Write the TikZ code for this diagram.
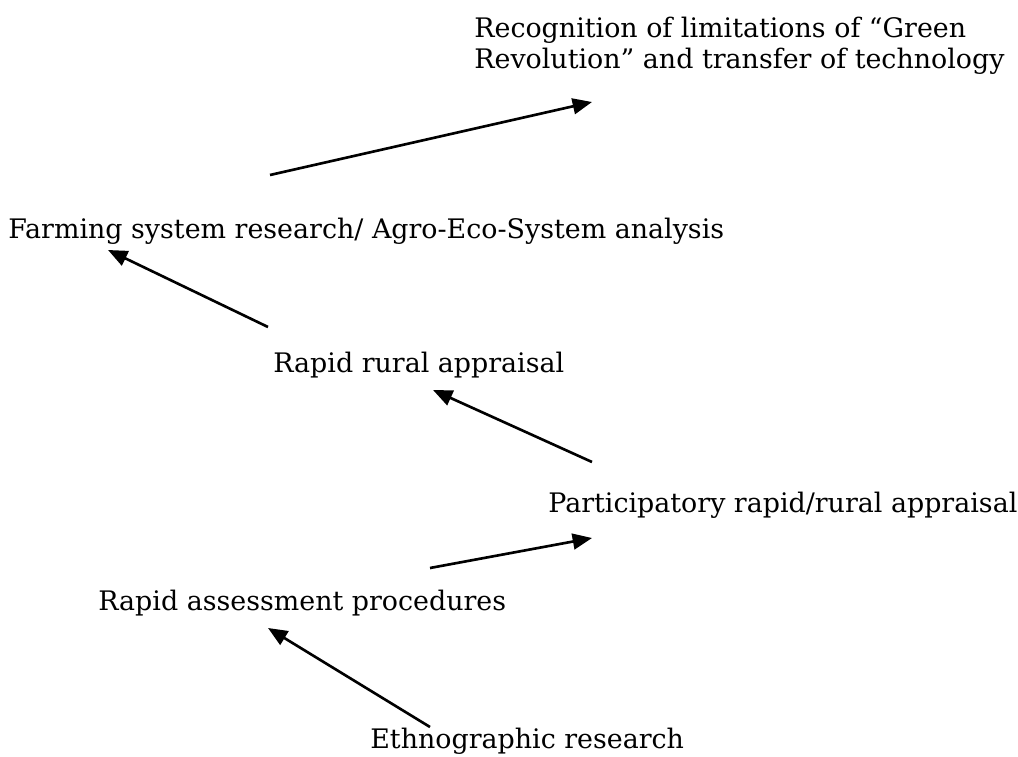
\documentclass[tikz,border=0pt]{standalone}
\usepackage{fontspec}
\setmainfont{DejaVu Serif}
\usetikzlibrary{arrows.meta}
\tikzset{
  lbl/.style={inner sep=0pt, anchor=base west, font=\fontsize{15.3}{18}\selectfont},
  toplbl/.style={lbl, align=left},
  arr/.style={line width=1.5pt, -{Triangle[length=11pt,width=9pt]}}
}
\begin{document}
\begin{tikzpicture}[x=0.02cm,y=-0.02cm]
\useasboundingbox (0,0) rectangle (1018,757);
\node[toplbl] (green) at (474,69) {Recognition of limitations of “Green\\Revolution” and transfer of technology};
\node[lbl] (farm) at (8,238) {Farming system research/ Agro-Eco-System analysis};
\node[lbl] (rra) at (273,372) {Rapid rural appraisal};
\node[lbl] (prra) at (548,512) {Participatory rapid/rural appraisal};
\node[lbl] (rap) at (98,610) {Rapid assessment procedures};
\node[lbl] (eth) at (370,748) {Ethnographic research};
\coordinate (a1s) at (270,175);
\coordinate (a1e) at (592,102);
\coordinate (a2s) at (268,327);
\coordinate (a2e) at (108,250);
\coordinate (a3s) at (592,462);
\coordinate (a3e) at (433,390);
\coordinate (a4s) at (430,568);
\coordinate (a4e) at (592,538);
\coordinate (a5s) at (430,727);
\coordinate (a5e) at (268,628);
\draw[arr] (a1s) -- (a1e);
\draw[arr] (a2s) -- (a2e);
\draw[arr] (a3s) -- (a3e);
\draw[arr] (a4s) -- (a4e);
\draw[arr] (a5s) -- (a5e);
\end{tikzpicture}
\end{document}
